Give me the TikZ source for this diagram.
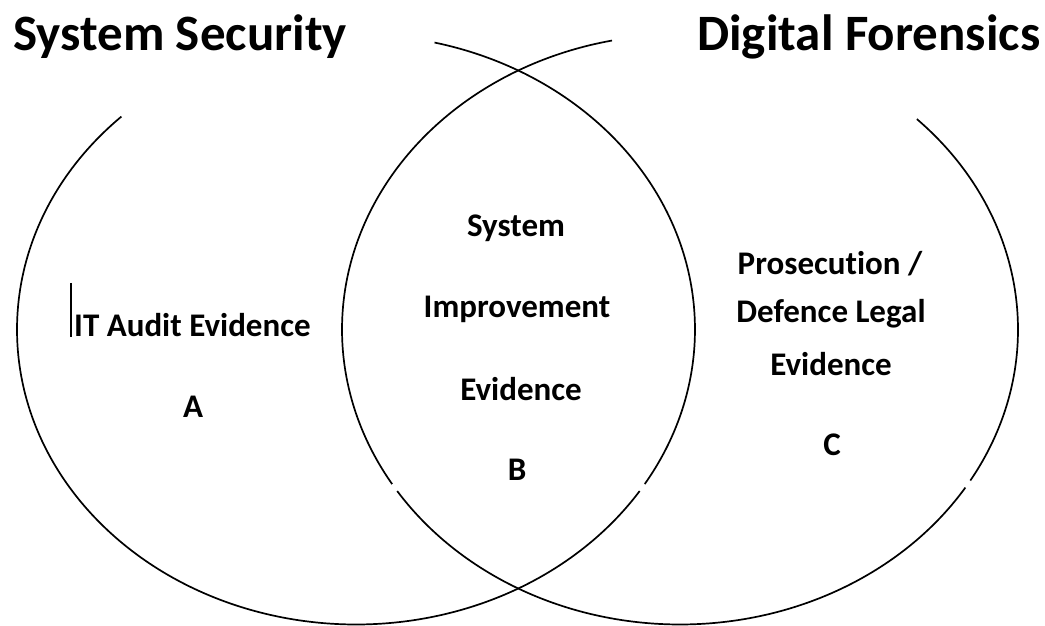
\documentclass[tikz,border=0pt]{standalone}
\usepackage{fontspec}
\setmainfont{Carlito}[Ligatures=NoCommon]
\begin{document}
\begin{tikzpicture}[x=1pt,y=1pt,
  ring/.style={line width=1.7pt, black},
  title/.style={inner sep=0pt, anchor=base west, font=\fontsize{51}{60}\selectfont\bfseries},
  lbl/.style={inner sep=0pt, anchor=base, font=\fontsize{33}{40}\selectfont\bfseries}]
\useasboundingbox (0,0) rectangle (1045,625);
% left ellipse (System Security)
\coordinate (lc) at (356,295.5);
\draw[ring] (lc) ++(133.8:339 and 295) arc[start angle=133.8, end angle=326.8, x radius=339, y radius=295];
\draw[ring] (lc) ++(328.4:339 and 295) arc[start angle=328.4, end angle=436.6, x radius=339, y radius=295];
% right ellipse (Digital Forensics)
\coordinate (rc) at (680,295.5);
\draw[ring] (rc) ++(101.6:338 and 295) arc[start angle=101.6, end angle=211.6, x radius=338, y radius=295];
\draw[ring] (rc) ++(213.2:338 and 295) arc[start angle=213.2, end angle=327.6, x radius=338, y radius=295];
\draw[ring] (rc) ++(329.2:338 and 295) arc[start angle=329.2, end angle=405.5, x radius=338, y radius=295];
% titles
\node[title] (t1) at (13,574) {System Security};
\node[title] (t2) at (697,574) {Digital Forensics};
% left region
\draw[line width=1.5pt] (71,342) -- (71,288);
\node[lbl, anchor=base west] (ita) at (74,288) {IT Audit Evidence};
\node[lbl] (a) at (193,208) {A};
% middle region
\node[lbl] (m1) at (516,388) {System};
\node[lbl] (m2) at (517,307) {Improvement};
\node[lbl] (m3) at (521,225) {Evidence};
\node[lbl] (b) at (517,145) {B};
% right region
\node[lbl] (r1) at (830,350) {Prosecution /};
\node[lbl] (r2) at (831,302) {Defence Legal};
\node[lbl] (r3) at (831,250) {Evidence};
\node[lbl] (c) at (832,170) {C};
\end{tikzpicture}
\end{document}
